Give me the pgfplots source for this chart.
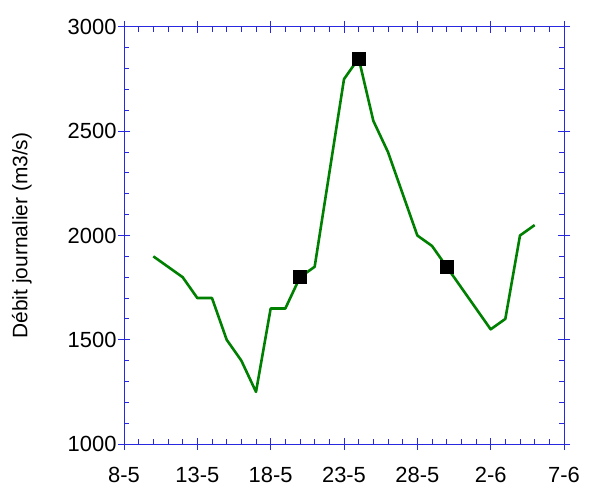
\documentclass[border=0pt]{standalone}
\usepackage{fontspec}
\setmainfont{Liberation Sans}
\usepackage{pgfplots}
\pgfplotsset{compat=1.18}
\definecolor{axblue}{RGB}{40,40,225}
\definecolor{lgreen}{RGB}{0,128,0}
\begin{document}
\begin{tikzpicture}
\useasboundingbox (0,0) rectangle (591bp,490bp);
\begin{axis}[
  at={(124bp,46bp)}, anchor=south west,
  scale only axis, width=440bp, height=417bp,
  xmin=8, xmax=38, ymin=1000, ymax=3000,
  xtick={8,13,18,23,28,33,38},
  xticklabels={8-5,13-5,18-5,23-5,28-5,2-6,7-6},
  ytick={1000,1500,2000,2500,3000},
  minor x tick num=4, minor y tick num=4,
  tick pos=both,
  tick align=inside,
  major tick length=6bp, minor tick length=5bp,
  extra x ticks={8,13,18,23,28,33,38}, extra x tick labels={},
  extra y ticks={1000,1500,2000,2500,3000}, extra y tick labels={},
  extra tick style={tick align=outside, major tick length=6bp},
  axis line style={axblue, line width=1pt},
  every tick/.style={axblue, line width=1pt},
  tick label style={font=\fontsize{22}{26}\selectfont, black},
  /pgf/number format/assume math mode=true,
  /pgf/number format/1000 sep={},
  xticklabel style={yshift=-22bp, inner sep=1bp},
  yticklabel style={xshift=-4bp},
  ylabel={Débit journalier (m3/s)},
  ylabel style={font=\fontsize{21}{25}\selectfont, at={(axis description cs:-0.232,0.5)}, anchor=center, rotate=0},
]
\addplot[lgreen, line width=2.6bp, line join=round] coordinates {
  (10,1900) (12,1800) (13,1700) (14,1700) (15,1500) (16,1400) (17,1250)
  (18,1650) (19,1650) (20,1800) (21,1850) (23,2750) (24,2850) (25,2550)
  (26,2400) (28,2000) (29,1950) (30,1850) (33,1550) (34,1600) (35,2000) (36,2050)
};
\addplot[only marks, mark=square*, mark size=6.5bp, black] coordinates {
  (20,1800) (24,2850) (30,1850)
};
\end{axis}
\end{tikzpicture}
\end{document}
